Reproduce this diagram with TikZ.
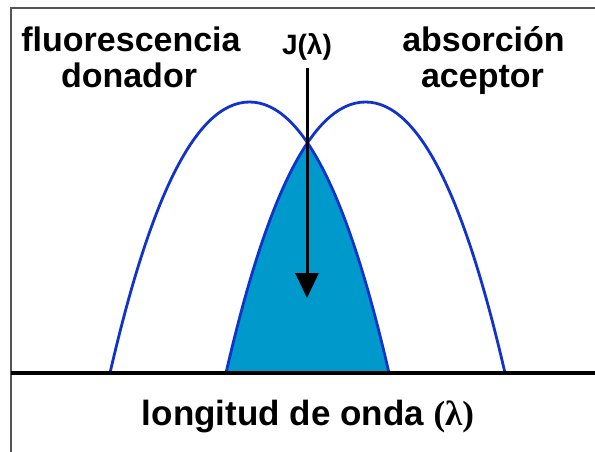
\documentclass[tikz,border=0pt]{standalone}
\usepackage{fontspec}
\setmainfont{Liberation Sans}
\newfontfamily\serifbold{Liberation Serif}
\usetikzlibrary{arrows.meta}
\definecolor{curveblue}{RGB}{17,51,204}
\definecolor{overlapfill}{RGB}{0,153,204}
\definecolor{framegray}{RGB}{85,85,85}
\tikzset{
  lbl/.style={anchor=base, inner sep=0pt, font=\fontsize{34}{36}\selectfont\bfseries},
  spectrum/.style={draw=curveblue, line width=2.8pt},
  frameline/.style={draw=framegray, line width=2pt},
  axisline/.style={draw=black, line width=3.5pt},
  jarrow/.style={draw=black, line width=3pt, -{Triangle[width=23pt,length=25pt]}}
}
\begin{document}
\begin{tikzpicture}[x=1pt,y=-1pt]
\useasboundingbox (0,0) rectangle (595,452);
% overlap region
\begin{scope}
  \clip (226,373) .. controls (264,208) and (309,102) .. (365.5,102)
        .. controls (422,102) and (467,208) .. (505,373) -- cycle;
  \fill[overlapfill] (110,373) .. controls (148,208) and (193,102) .. (249.5,102)
        .. controls (306,102) and (351,208) .. (389,373) -- cycle;
\end{scope}
% spectra
\draw[spectrum] (110,373) .. controls (148,208) and (193,102) .. (249.5,102)
      .. controls (306,102) and (351,208) .. (389,373);
\draw[spectrum] (226,373) .. controls (264,208) and (309,102) .. (365.5,102)
      .. controls (422,102) and (467,208) .. (505,373);
% frame and axis
\draw[frameline] (595,8) -- (11,8) -- (11,452);
\draw[axisline] (11,373) -- (595,373);
% labels
\node[lbl] (fluo) at (131,52) {fluorescencia};
\node[lbl] (don) at (129,88) {donador};
\node[lbl] (abs) at (483.5,52) {absorción};
\node[lbl] (acep) at (482.5,88) {aceptor};
\node[anchor=base, inner sep=0pt, font=\fontsize{28}{30}\selectfont\bfseries] (J) at (307,55) {J(λ)};
\node[lbl, font=\fontsize{35}{37}\selectfont\bfseries] (xlab) at (308,425) {longitud de onda {\serifbold (λ)}};
% arrow
\coordinate (atop) at (307,68);
\coordinate (atip) at (307,298);
\draw[jarrow] (atop) -- (atip);
\end{tikzpicture}
\end{document}
